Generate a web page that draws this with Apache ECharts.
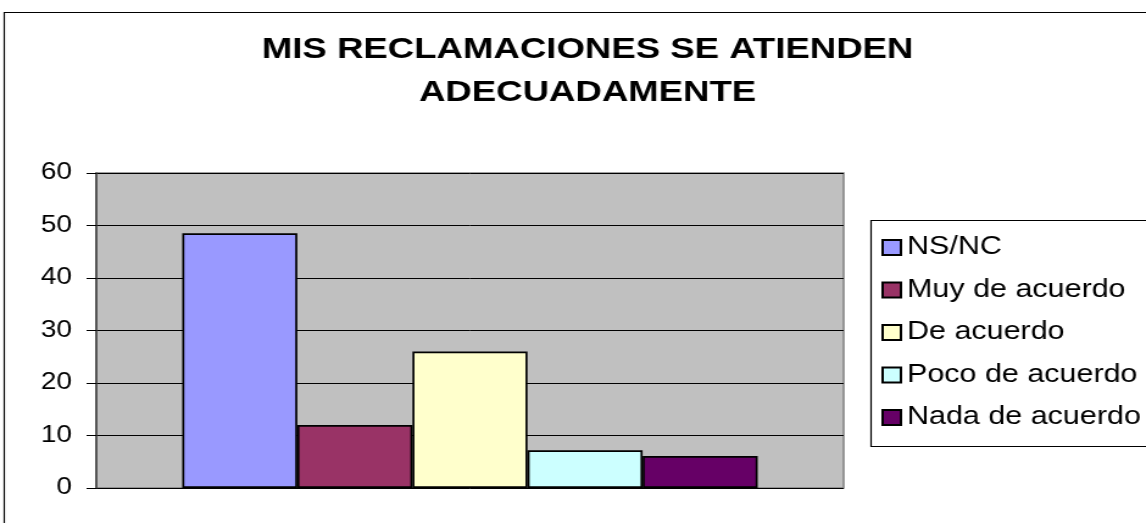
<!DOCTYPE html>
<html>
<head>
<meta charset="utf-8">
<script src="https://cdn.jsdelivr.net/npm/echarts@6/dist/echarts.min.js"></script>
<style>
  html, body { margin: 0; padding: 0; background: #fff; overflow: hidden; }
  /* the source picture is stretched sideways, so the chart is drawn narrower and widened */
  #chart { width: 940px; height: 523px; transform: scaleX(1.2191); transform-origin: 0 0; }
</style>
</head>
<body>
<div id="chart"></div>
<script>
var categories = [''];
var seriesNames = ['NS/NC', 'Muy de acuerdo', 'De acuerdo', 'Poco de acuerdo', 'Nada de acuerdo'];
var seriesValues = [48.5, 12, 26, 7.2, 6.1];
var seriesColors = ['#9999FF', '#993366', '#FFFFCC', '#CCFFFF', '#660066'];
var yTicks = [0, 60, 10]; // min, max, step

var chart = echarts.init(document.getElementById('chart'), null, { renderer: 'canvas' });

var series = seriesNames.map(function (name, i) {
  return {
    name: name,
    type: 'bar',
    data: [seriesValues[i]],
    barGap: '0%',
    barCategoryGap: '23%',
    itemStyle: { color: seriesColors[i], borderColor: '#000', borderWidth: 1.7 },
    emphasis: { disabled: true }
  };
});

var font = 'Liberation Sans, Arial, sans-serif';

var option = {
  backgroundColor: '#FFFFFF',
  animation: false,
  title: {
    text: 'MIS RECLAMACIONES SE ATIENDEN\nADECUADAMENTE',
    left: 482,
    top: 28,
    textAlign: 'center',
    padding: 0,
    textStyle: {
      fontFamily: font,
      fontSize: 30,
      fontWeight: 'bold',
      lineHeight: 43,
      color: '#000'
    }
  },
  grid: {
    left: 79,
    right: 248,
    top: 173,
    bottom: 35,
    show: true,
    backgroundColor: '#C0C0C0',
    borderColor: '#808080',
    borderWidth: 1.5
  },
  legend: {
    orient: 'vertical',
    left: 723,
    top: 235,
    padding: 0,
    itemWidth: 15,
    itemHeight: 15,
    itemGap: 17.5,
    icon: 'rect',
    data: seriesNames,
    textStyle: {
      fontFamily: font,
      fontSize: 25,
      lineHeight: 25,
      color: '#000'
    }
  },
  xAxis: {
    type: 'category',
    data: categories,
    axisLine: { show: false },
    axisTick: { show: false },
    axisLabel: { show: false }
  },
  yAxis: {
    type: 'value',
    min: yTicks[0],
    max: yTicks[1],
    interval: yTicks[2],
    axisLine: { show: true, lineStyle: { color: '#404040', width: 1.5 } },
    axisTick: { show: true, length: 8, lineStyle: { color: '#000' } },
    axisLabel: {
      margin: 20,
      fontFamily: font,
      fontSize: 23,
      color: '#000'
    },
    splitLine: { show: true, lineStyle: { color: '#000', width: 1 } }
  },
  graphic: [
    {
      type: 'rect',
      shape: { x: 3.5, y: 12.5, width: 1000, height: 600 },
      style: { fill: 'none', stroke: '#000', lineWidth: 1.2 },
      silent: true
    },
    {
      type: 'rect',
      shape: { x: 714.5, y: 220.5, width: 300, height: 226 },
      style: { fill: 'none', stroke: '#000', lineWidth: 1.2 },
      silent: true
    }
  ],
  series: series
};

chart.setOption(option);
</script>
</body>
</html>
